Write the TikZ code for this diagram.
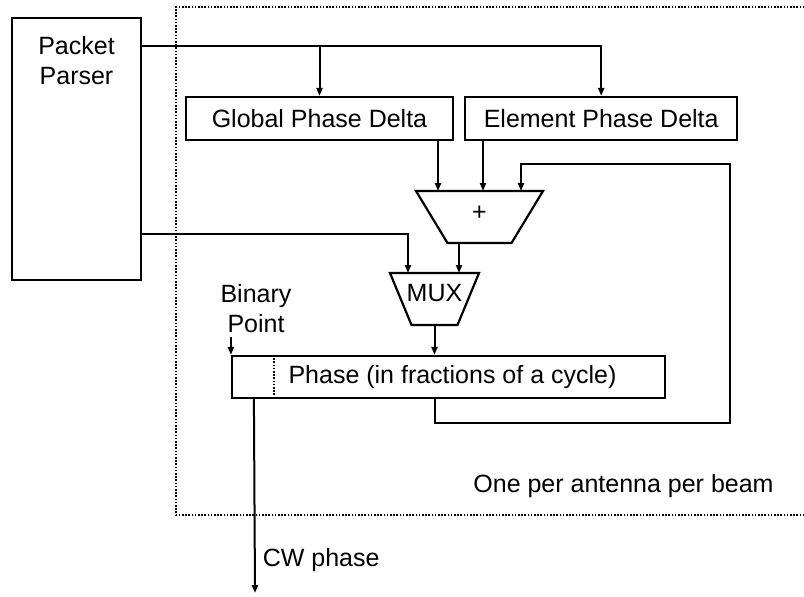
\documentclass[tikz,border=0pt]{standalone}
\usepackage{fontspec}
\setmainfont{Liberation Sans}
\usetikzlibrary{positioning}
\usetikzlibrary{arrows.meta}
\usetikzlibrary{calc}

\begin{document}
\begin{tikzpicture}[x=0.5pt, y=-0.5pt, line width=1pt,
                    font=\fontsize{12.5}{15}\selectfont,
                    every node/.style={inner sep=0pt},
                    block/.style={draw, line width=1.1pt, fill=white},
                    alu/.style={minimum height=25pt},
                    wire/.style={-{Triangle[length=4pt, width=3pt]}},
                    region/.style={dash pattern=on 0.8pt off 0.8pt}]

  \useasboundingbox (0,0) rectangle (804,596);

  % per-beam region, open to the right
  \draw[region] (830,7) -| (176,515) -- (830,515);

  \node[block, minimum width=64.5pt, minimum height=131pt,
        label={[align=center, anchor=north, yshift=-9pt]north:Packet\\Parser}]
        (parser) at (76.5,149) {};
  \node[block, minimum width=133.5pt, minimum height=21.5pt] (gpd) at (319.5,118.5) {Global Phase Delta};
  \node[block, minimum width=136pt, minimum height=21.5pt, right=5pt of gpd] (epd) {Element Phase Delta};

  % adder and mux outlines, narrowing downwards
  \node[alu, minimum width=62.5pt] (adder) at (479.5,217) {\raisebox{4pt}{+}};
  \node[alu, minimum width=43.5pt] (mux) at (434.5,299) {\raisebox{6pt}{MUX}};
  \draw[line width=1.1pt] (adder.north west) -- (adder.north east)
    -- ($(adder.south east)+(-31.5,0)$) -- ($(adder.south west)+(31.5,0)$) -- cycle;
  \draw[line width=1.1pt] (mux.north west) -- (mux.north east)
    -- ($(mux.south east)+(-21.5,0)$) -- ($(mux.south west)+(21.5,0)$) -- cycle;

  \node[block, minimum width=216.5pt, minimum height=21pt] (phase) at (448.5,377)
       {\hspace*{4pt}Phase (in fractions of a cycle)};
  \draw[region] ($(phase.north west)+(43,0)$) -- ($(phase.south west)+(43,0)$);

  \node[align=center] (binpt) at (256,309) {Binary\\Point};
  \draw[wire] ($(phase.north west)+(0,-18)$) -- (phase.north west);

  % adder and mux inputs
  \coordinate (a1) at ($(adder.north)+(-41.5,0)$);
  \coordinate (a2) at ($(adder.north)+(3.5,0)$);
  \coordinate (a3) at ($(adder.north)+(41.5,0)$);
  \coordinate (m1) at ($(mux.north)+(-26.5,0)$);
  \coordinate (m2) at ($(mux.north)+(24.5,0)$);

  \coordinate (ptap) at ($(parser.north east)+(0,29)$);
  \draw[wire] (ptap) -| (epd.north);
  \draw[wire] (ptap -| gpd.north) -- (gpd.north);
  \draw[wire] (gpd.south -| a1) -- (a1);
  \draw[wire] (epd.south -| a2) -- (a2);
  \draw[wire] ($(parser.south east)+(0,-47)$) -| (m1);
  \draw[wire] (adder.south -| m2) -- (m2);
  \draw[wire] (mux.south) -- (mux.south |- phase.north);

  % accumulator feedback
  \coordinate (loopbr) at (730,423);
  \coordinate (looptr) at (730,164);
  \draw[wire] (phase.south -| mux.south) |- (loopbr) -- (looptr) -| (a3);

  \coordinate (cwend) at (255,593);
  \draw[wire] ($(phase.south west)+(23,0)$) -- (cwend)
    node[pos=0.83, right=3.5pt] {CW phase};

  \node (note) at (623.5,486) {One per antenna per beam};

\end{tikzpicture}
\end{document}
